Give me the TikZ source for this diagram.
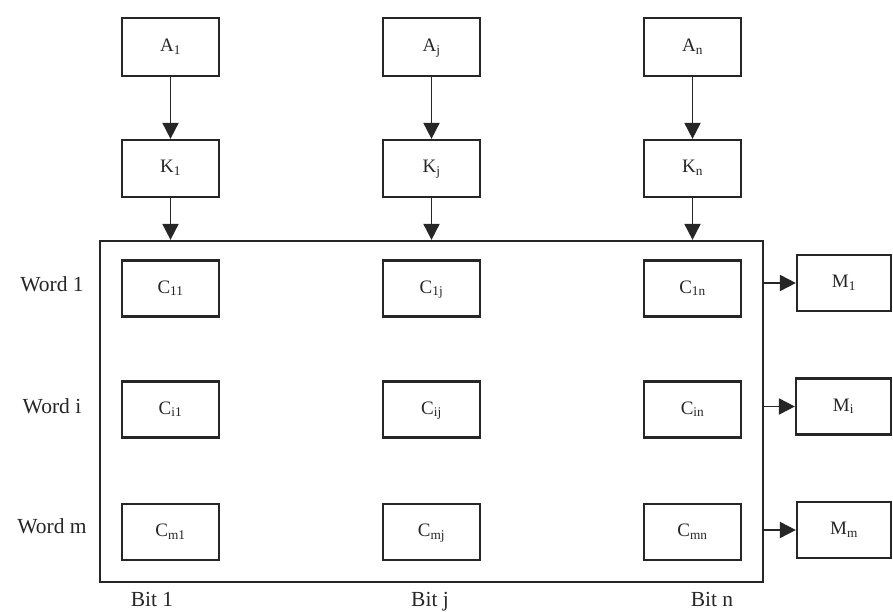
\documentclass[tikz,border=0pt]{standalone}
\usepackage{fontspec}
\setmainfont{Liberation Serif}
\usetikzlibrary{arrows.meta}
\tikzset{
  cell/.style={draw, line width=2.2pt, inner sep=0pt, minimum width=97, minimum height=56,
               text height=14pt, text depth=5pt, font=\fontsize{19}{21}\selectfont},
  lbl/.style={inner sep=0pt, text height=15pt, text depth=5pt, font=\fontsize{21.5}{23}\selectfont},
  flow/.style={line width=1.8pt, -{Triangle[length=16pt,width=16pt]}}
}
\newcommand{\idx}[1]{\textsubscript{#1}}
\begin{document}
\begin{tikzpicture}[x=1pt, y=-1pt, color=black!85]
\useasboundingbox (0,0) rectangle (893,612);
% key registers
\node[cell, minimum height=58] (A1) at (170.5,47) {A\idx{1}};
\node[cell, minimum height=58] (Aj) at (431.5,47) {A\idx{j}};
\node[cell, minimum height=58] (An) at (692.5,47) {A\idx{n}};
\node[cell, minimum height=57] (K1) at (170.5,168.5) {K\idx{1}};
\node[cell, minimum height=57] (Kj) at (431.5,168.5) {K\idx{j}};
\node[cell, minimum height=57] (Kn) at (692.5,168.5) {K\idx{n}};
% memory array
\node[draw, line width=2.2pt, inner sep=0pt, minimum width=663, minimum height=341] (mem) at (431.5,411.5) {};
\node[cell] (C11) at (170.5,288.5) {C\idx{11}};
\node[cell] (C1j) at (431.5,288.5) {C\idx{1j}};
\node[cell] (C1n) at (692.5,288.5) {C\idx{1n}};
\node[cell] (Ci1) at (170.5,409.5) {C\idx{i1}};
\node[cell] (Cij) at (431.5,409.5) {C\idx{ij}};
\node[cell] (Cin) at (692.5,409.5) {C\idx{in}};
\node[cell] (Cm1) at (170.5,532) {C\idx{m1}};
\node[cell] (Cmj) at (431.5,532) {C\idx{mj}};
\node[cell] (Cmn) at (692.5,532) {C\idx{mn}};
% match registers
\node[cell, minimum width=94] (M1) at (844,283) {M\idx{1}};
\node[cell, minimum width=95] (Mi) at (843.5,406.5) {M\idx{i}};
\node[cell, minimum width=94] (Mm) at (844,530) {M\idx{m}};
% row and column labels
\node[lbl] (w1) at (52,286) {Word 1};
\node[lbl] (wi) at (52,408) {Word i};
\node[lbl] (wm) at (52,528) {Word m};
\node[lbl] (b1) at (152,601) {Bit 1};
\node[lbl] (bj) at (430,601) {Bit j};
\node[lbl] (bn) at (712,601) {Bit n};
% connectors
\draw[flow] (A1) -- (K1);
\draw[flow] (Aj) -- (Kj);
\draw[flow] (An) -- (Kn);
\draw[flow] (K1) -- (K1 |- mem.north);
\draw[flow] (Kj) -- (Kj |- mem.north);
\draw[flow] (Kn) -- (Kn |- mem.north);
\draw[flow] (mem.east |- M1.west) -- (M1);
\draw[flow] (mem.east |- Mi.west) -- (Mi);
\draw[flow] (mem.east |- Mm.west) -- (Mm);
\end{tikzpicture}
\end{document}
